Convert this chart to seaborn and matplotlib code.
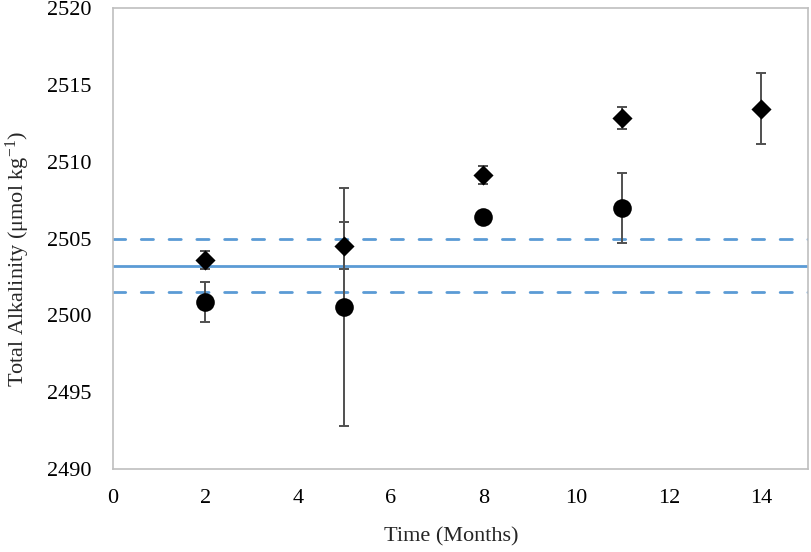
import matplotlib
matplotlib.use("Agg")
import matplotlib.pyplot as plt
import seaborn as sns
import pandas as pd

# Data
diamond_x = [2, 5, 8, 11, 14]
diamond_y = [2503.6, 2504.55, 2509.15, 2512.85, 2513.45]
diamond_err = [0.6, 1.55, 0.6, 0.7, 2.3]

circle_x = [2, 5, 8, 11]
circle_y = [2500.9, 2500.55, 2506.4, 2507.0]
circle_err = [1.3, 7.75, 0.2, 2.27]

ref_mean = 2503.25
ref_upper = 2505.0
ref_lower = 2501.5

x_ticks = [0, 2, 4, 6, 8, 10, 12, 14]
y_ticks = [2490, 2495, 2500, 2505, 2510, 2515, 2520]

sns.set_theme(style="white")
plt.rcParams['font.family'] = ['Liberation Serif', 'DejaVu Serif']
plt.rcParams['mathtext.fontset'] = 'custom'
plt.rcParams['mathtext.rm'] = 'Liberation Serif'
plt.rcParams['mathtext.it'] = 'Liberation Serif:italic'

fig = plt.figure(figsize=(8.11, 5.52), dpi=100)
ax = fig.add_axes([0.139, 0.150, 0.857, 0.8355])

blue = "#5B9BD5"
ax.axhline(ref_mean, color=blue, lw=2.0, zorder=1)
for yv in (ref_upper, ref_lower):
    ax.axhline(yv, color=blue, lw=2.0, ls=(0, (4.4, 5.6)),
               dash_capstyle='round', zorder=1)

ecol = '#505050'
ax.errorbar(diamond_x, diamond_y, yerr=diamond_err, fmt='none', ecolor=ecol,
            elinewidth=1.4, capsize=3.6, capthick=1.4, zorder=2)
ax.errorbar(circle_x, circle_y, yerr=circle_err, fmt='none', ecolor=ecol,
            elinewidth=1.4, capsize=3.6, capthick=1.4, zorder=2)

df_d = pd.DataFrame({"x": diamond_x, "y": diamond_y})
df_c = pd.DataFrame({"x": circle_x, "y": circle_y})
sns.scatterplot(data=df_d, x="x", y="y", marker="D", s=105, color="black",
                edgecolor="black", linewidth=0, ax=ax, zorder=3)
sns.scatterplot(data=df_c, x="x", y="y", marker="o", s=180, color="black",
                edgecolor="black", linewidth=0, ax=ax, zorder=3)

ax.set_xlim(0, 15)
ax.set_ylim(2490, 2520)
ax.set_xticks(x_ticks)
ax.set_yticks(y_ticks)
ax.tick_params(axis='both', length=0, labelsize=16, colors='black')
ax.tick_params(axis='x', pad=14.5)
ax.tick_params(axis='y', pad=15)
for s in ax.spines.values():
    s.set_color('#BFBFBF')
    s.set_linewidth(1.2)

ax.set_xlabel("Time (Months)", fontsize=16)
ax.set_ylabel(r"Total Alkalinity (μmol kg$^{-1}$)", fontsize=16)
ax.xaxis.set_label_coords(0.487, -0.126)
ax.yaxis.set_label_coords(-0.116, 0.455)

fig.savefig("out.png", dpi=100)
